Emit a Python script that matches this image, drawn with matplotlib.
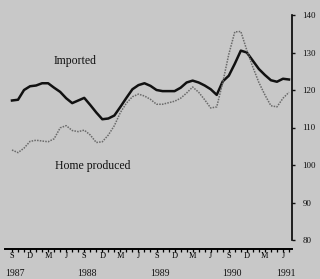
import matplotlib
matplotlib.use("Agg")
import matplotlib.pyplot as plt
import numpy as np

# Monthly data, Sep 1987 .. Jul 1991
imported = [117.2, 117.4, 120.0, 121.0, 121.2, 121.8, 121.8, 120.6, 119.5, 117.8,
            116.5, 117.2, 117.9, 116.0, 114.0, 112.2, 112.4, 113.2, 115.5, 117.9,
            120.2, 121.3, 121.8, 121.1, 120.0, 119.7, 119.7, 119.7, 120.6, 122.0,
            122.5, 122.0, 121.2, 120.2, 118.7, 122.3, 123.8, 127.0, 130.5, 130.0,
            127.8, 125.6, 124.0, 122.6, 122.2, 123.0, 122.8]
home_produced = [104.0, 103.3, 104.5, 106.3, 106.6, 106.4, 106.2, 107.0, 109.9, 110.5,
                 109.2, 108.9, 109.3, 108.0, 106.0, 106.2, 108.0, 110.5, 114.0, 116.5,
                 118.2, 118.9, 118.4, 117.5, 116.2, 116.2, 116.6, 117.0, 117.8, 119.2,
                 120.8, 119.4, 117.4, 115.2, 115.5, 122.0, 129.5, 135.5, 135.6, 130.6,
                 126.1, 122.0, 118.7, 115.8, 115.5, 117.8, 119.4]
month_letters = ["S", "D", "M", "J"] * 4
year_labels = ["1987", "1988", "1989", "1990", "1991"]
year_positions = [0, 12, 24, 36, 45]
y_ticks = [80, 90, 100, 110, 120, 130, 140]

bg = "#c8c8c8"
serif = ["Liberation Serif", "DejaVu Serif"]
W, H = 320, 279

fig = plt.figure(figsize=(3.2, 2.79), dpi=100, facecolor=bg)
ax = fig.add_axes([5/W, 30/H, 287/W, 234/H], facecolor=bg)

months = np.arange(len(imported))
ax.plot(months, imported, color="#111111", lw=1.8, solid_joinstyle="round")
ax.plot(months, home_produced, color="#6a6a6a", lw=1.1, ls=(0, (1, 0.8)))

ax.set_xlim(-1.16, 46.5)
ax.set_ylim(77.6, 140)

for s in ["top", "left"]:
    ax.spines[s].set_visible(False)
ax.spines["right"].set_bounds(80, 140)
ax.spines["right"].set_linewidth(1.2)
ax.spines["bottom"].set_linewidth(1.4)

ax.yaxis.tick_right()
ax.set_yticks(y_ticks)
ax.set_yticklabels([str(v) for v in y_ticks], fontsize=6.5, family=serif)
ax.tick_params(axis="y", direction="out", length=2.5, width=1, pad=5, colors="#111111")

major = np.arange(0, 46, 3)
ax.set_xticks(major)
ax.set_xticklabels(month_letters[:len(major)], fontsize=6, family=serif)
ax.set_xticks(np.arange(0, 47, 1), minor=True)
ax.tick_params(axis="x", which="both", direction="out", length=2, width=0.9, pad=0.5)

for yl, pos in zip(year_labels, year_positions):
    ax.text(pos + 0.5, -0.105, yl, transform=ax.get_xaxis_transform(),
            ha="center", va="center", fontsize=7, family=serif, color="#111111")

fig.text(75/W, 1 - 61/H, "Imported", fontsize=8.5, family=serif,
         ha="center", va="center", color="#111111")
fig.text(93/W, 1 - 166/H, "Home produced", fontsize=8.5, family=serif,
         ha="center", va="center", color="#111111")

fig.savefig("out.png", dpi=100, facecolor=bg)
